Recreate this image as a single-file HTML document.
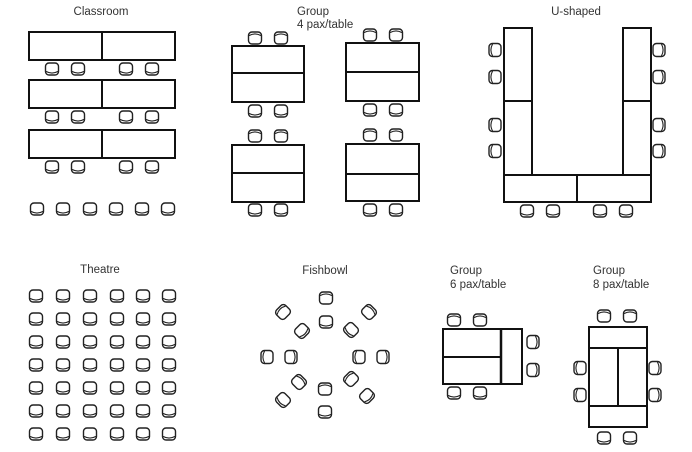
<!DOCTYPE html>
<html><head><meta charset="utf-8"><style>
html,body{margin:0;padding:0;background:#fff;}
svg{display:block;}
text{font-family:"Liberation Sans",Arial,sans-serif;font-size:11.5px;fill:#333;}
</style></head><body>
<svg width="692" height="452" viewBox="0 0 692 452" xmlns="http://www.w3.org/2000/svg">
<defs>
<g id="c"><rect x="-6.5" y="-6" width="13" height="12" rx="3.5" fill="#fff" stroke="#222" stroke-width="1.4"/><path d="M-6,2.4 Q0,5.8 6,2.4" fill="none" stroke="#222" stroke-width="1.1"/></g>
</defs>
<g fill="none" stroke="#111" stroke-width="2">
<rect x="29" y="32" width="146" height="28"/><line x1="102" y1="32" x2="102" y2="60"/>
<rect x="29" y="80" width="146" height="28"/><line x1="102" y1="80" x2="102" y2="108"/>
<rect x="29" y="130" width="146" height="28"/><line x1="102" y1="130" x2="102" y2="158"/>
<rect x="232" y="46" width="72" height="56"/><line x1="232" y1="73" x2="304" y2="73"/>
<rect x="346" y="43" width="73" height="58"/><line x1="346" y1="72" x2="419" y2="72"/>
<rect x="232" y="145" width="72" height="57"/><line x1="232" y1="173" x2="304" y2="173"/>
<rect x="346" y="144" width="73" height="57"/><line x1="346" y1="174" x2="419" y2="174"/>
<rect x="504" y="28" width="28" height="147"/><line x1="504" y1="101" x2="532" y2="101"/>
<rect x="623" y="28" width="28" height="147"/><line x1="623" y1="101" x2="651" y2="101"/>
<rect x="504" y="175" width="147" height="27"/><line x1="577" y1="175" x2="577" y2="202"/>
<rect x="443" y="329" width="79" height="55"/><line x1="501" y1="329" x2="501" y2="384" stroke-width="2.5"/><line x1="443" y1="357" x2="501" y2="357"/>
<rect x="589" y="327" width="58" height="100"/><line x1="589" y1="348" x2="647" y2="348"/><line x1="589" y1="406" x2="647" y2="406"/><line x1="618" y1="348" x2="618" y2="406"/>
</g>
<g>
<use href="#c" x="52" y="69"/><use href="#c" x="78" y="69"/><use href="#c" x="126" y="69"/><use href="#c" x="152" y="69"/>
<use href="#c" x="52" y="117"/><use href="#c" x="78" y="117"/><use href="#c" x="126" y="117"/><use href="#c" x="152" y="117"/>
<use href="#c" x="52" y="167"/><use href="#c" x="78" y="167"/><use href="#c" x="126" y="167"/><use href="#c" x="152" y="167"/>
<use href="#c" x="37" y="209"/><use href="#c" x="63" y="209"/><use href="#c" x="90" y="209"/><use href="#c" x="116" y="209"/><use href="#c" x="142" y="209"/><use href="#c" x="168" y="209"/>
<g transform="translate(255,38) rotate(180)"><use href="#c"/></g><g transform="translate(281,38) rotate(180)"><use href="#c"/></g>
<use href="#c" x="255" y="111"/><use href="#c" x="281" y="111"/>
<g transform="translate(370,35) rotate(180)"><use href="#c"/></g><g transform="translate(396,35) rotate(180)"><use href="#c"/></g>
<use href="#c" x="370" y="110"/><use href="#c" x="396" y="110"/>
<g transform="translate(255,136) rotate(180)"><use href="#c"/></g><g transform="translate(281,136) rotate(180)"><use href="#c"/></g>
<use href="#c" x="255" y="210"/><use href="#c" x="281" y="210"/>
<g transform="translate(370,135) rotate(180)"><use href="#c"/></g><g transform="translate(396,135) rotate(180)"><use href="#c"/></g>
<use href="#c" x="370" y="210"/><use href="#c" x="396" y="210"/>
<g transform="translate(495,50) rotate(90)"><use href="#c"/></g><g transform="translate(495,77) rotate(90)"><use href="#c"/></g>
<g transform="translate(495,125) rotate(90)"><use href="#c"/></g><g transform="translate(495,151) rotate(90)"><use href="#c"/></g>
<g transform="translate(659,50) rotate(-90)"><use href="#c"/></g><g transform="translate(659,77) rotate(-90)"><use href="#c"/></g>
<g transform="translate(659,125) rotate(-90)"><use href="#c"/></g><g transform="translate(659,151) rotate(-90)"><use href="#c"/></g>
<use href="#c" x="527" y="211"/><use href="#c" x="553" y="211"/><use href="#c" x="600" y="211"/><use href="#c" x="626" y="211"/>
<g id="trow"><use href="#c" x="36" y="296"/><use href="#c" x="63" y="296"/><use href="#c" x="90" y="296"/><use href="#c" x="117" y="296"/><use href="#c" x="143" y="296"/><use href="#c" x="169" y="296"/></g>
<use href="#trow" y="23"/><use href="#trow" y="46"/><use href="#trow" y="69"/><use href="#trow" y="92"/><use href="#trow" y="115"/><use href="#trow" y="138"/>
<g transform="translate(326,298) rotate(180)"><use href="#c"/></g>
<use href="#c" x="326" y="322"/>
<g transform="translate(267,357) rotate(90)"><use href="#c"/></g>
<g transform="translate(291,357) rotate(-90)"><use href="#c"/></g>
<g transform="translate(359,357) rotate(90)"><use href="#c"/></g>
<g transform="translate(383,357) rotate(-90)"><use href="#c"/></g>
<g transform="translate(325,389) rotate(180)"><use href="#c"/></g>
<use href="#c" x="325" y="412"/>
<g transform="translate(283,312) rotate(135)"><use href="#c"/></g>
<g transform="translate(302,331) rotate(-45)"><use href="#c"/></g>
<g transform="translate(351,330) rotate(45)"><use href="#c"/></g>
<g transform="translate(369,312) rotate(-135)"><use href="#c"/></g>
<g transform="translate(299,382) rotate(-135)"><use href="#c"/></g>
<g transform="translate(283,400) rotate(45)"><use href="#c"/></g>
<g transform="translate(351,379) rotate(135)"><use href="#c"/></g>
<g transform="translate(367,396) rotate(-45)"><use href="#c"/></g>
<g transform="translate(454,320) rotate(180)"><use href="#c"/></g><g transform="translate(480,320) rotate(180)"><use href="#c"/></g>
<use href="#c" x="454" y="393"/><use href="#c" x="480" y="393"/>
<g transform="translate(533,342) rotate(-90)"><use href="#c"/></g><g transform="translate(533,370) rotate(-90)"><use href="#c"/></g>
<g transform="translate(604,316) rotate(180)"><use href="#c"/></g><g transform="translate(630,316) rotate(180)"><use href="#c"/></g>
<g transform="translate(580,368) rotate(90)"><use href="#c"/></g><g transform="translate(580,395) rotate(90)"><use href="#c"/></g>
<g transform="translate(655,368) rotate(-90)"><use href="#c"/></g><g transform="translate(655,395) rotate(-90)"><use href="#c"/></g>
<use href="#c" x="604" y="438"/><use href="#c" x="630" y="438"/>
</g>
<text x="101" y="15" text-anchor="middle">Classroom</text>
<text x="297" y="15">Group</text>
<text x="297" y="28">4 pax/table</text>
<text x="576" y="15" text-anchor="middle">U-shaped</text>
<text x="100" y="273" text-anchor="middle">Theatre</text>
<text x="325" y="274" text-anchor="middle">Fishbowl</text>
<text x="450" y="274">Group</text>
<text x="450" y="288">6 pax/table</text>
<text x="593" y="274">Group</text>
<text x="593" y="288">8 pax/table</text>
</svg>
</body></html>
